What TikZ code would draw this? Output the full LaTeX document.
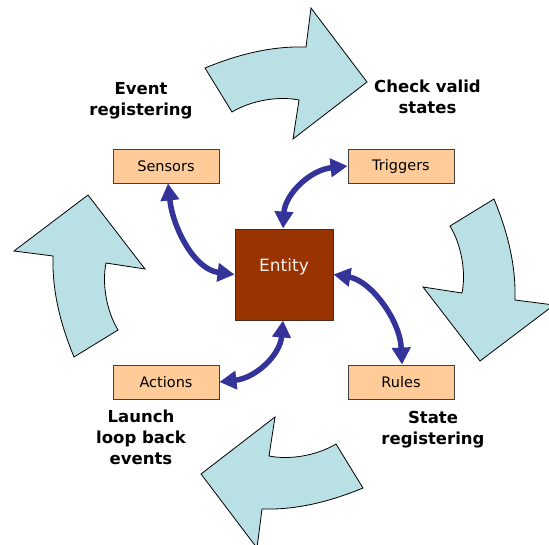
\documentclass[tikz,border=0pt]{standalone}
\usepackage{fontspec}
\setmainfont{DejaVu Sans}
\usetikzlibrary{arrows.meta}
\definecolor{arrowfill}{RGB}{185,224,228}
\definecolor{boxfill}{RGB}{255,204,153}
\definecolor{entityfill}{RGB}{153,51,0}
\definecolor{entityedge}{RGB}{80,40,20}
\definecolor{linkblue}{RGB}{51,51,153}

\begin{document}
\begin{tikzpicture}[x=1pt,y=-1pt,
  cyclearrow/.style={fill=arrowfill, draw=black, line width=0.8pt, line join=miter},
  itembox/.style={draw=black!75, fill=boxfill, line width=0.9pt,
    minimum width=106pt, minimum height=34pt, inner sep=0pt,
    font=\fontsize{14.5}{17}\selectfont},
  entitybox/.style={draw=entityedge, fill=entityfill, line width=0.9pt,
    minimum width=98pt, minimum height=91pt, inner sep=0pt,
    text=white!92!entityfill, font=\fontsize{17}{20}\selectfont},
  phase/.style={font=\bfseries\fontsize{16.5}{21}\selectfont, align=center, inner sep=0pt},
  link/.style={draw=linkblue, line width=5.5pt,
    {Triangle[length=17pt,width=18pt]}-{Triangle[length=17pt,width=18pt]}}
]
\useasboundingbox (0,0) rectangle (549,544);

% four curved cycle arrows, one shape turned a quarter each time
\foreach \ang in {0,-90,180,90}{
  \begin{scope}[shift={(284,278)}, rotate=\ang]
    \draw[cyclearrow] (-79,-210) .. controls (-45,-224) and (-12,-232) .. (22,-231)
      -- (27,-270) -- (83,-196) -- (9,-139) -- (15,-178)
      .. controls (-5,-182) and (-32,-178) .. (-52,-166) -- cycle;
  \end{scope}
}

% central entity (label sits a little above the middle) and its four parts
\node[entitybox] (entity) at (284,274.5) {Entity\rule[-18pt]{0pt}{0pt}};
\node[itembox] (sensors)  at (166,166) {Sensors};
\node[itembox] (triggers) at (401,166) {Triggers};
\node[itembox] (actions)  at (166,382) {Actions};
\node[itembox] (rules)    at (401,382) {Rules};

% two-way links
\draw[link] ([xshift=2pt]sensors.south) .. controls +(5,45) and +(-40,-5) .. (entity.west);
\draw[link] ([xshift=-1pt]entity.north) .. controls +(2,-34) and +(-38,4) .. (triggers.west);
\draw[link] (entity.east) .. controls +(37,6) and +(-2,-45) .. ([xshift=1pt]rules.north);
\draw[link] ([xshift=-1pt]entity.south) .. controls +(-3,35) and +(36,-4) .. (actions.east);

% phase labels
\node[phase] (evreg)  at (141,100.5) {Event\\registering};
\node[phase] (check)  at (427.5,97.3) {Check valid\\states};
\node[phase] (launch) at (141,437.7) {Launch\\loop back\\events};
\node[phase] (streg)  at (433,429.3) {State\\registering};
\end{tikzpicture}
\end{document}
